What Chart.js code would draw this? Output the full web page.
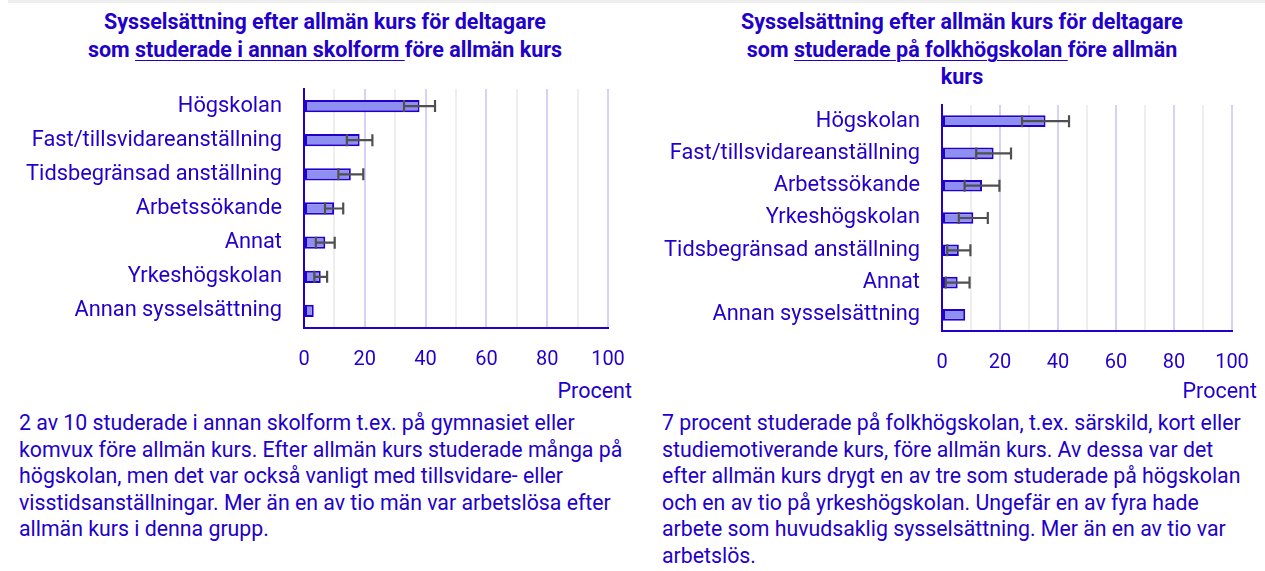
<!DOCTYPE html>
<html lang="sv">
<head>
<meta charset="utf-8">
<script src="https://cdn.jsdelivr.net/npm/chart.js@4/dist/chart.umd.min.js"></script>
<style>
    body { margin: 0; width: 1265px; height: 571px; background: #fff; font-family: Roboto, sans-serif; color: #2200cc; position: relative; overflow: hidden; }
    .strip { position: absolute; left: 8px; top: 0; width: 1257px; height: 3px; background: #eeeeee; }
    .title { position: absolute; text-align: center; font-weight: bold; font-size: 21.5px; line-height: 27.5px; }
    .title u { text-decoration-thickness: 1px; text-underline-offset: 3px; }
    .box { position: absolute; }
    .unit { position: absolute; font-size: 21.5px; line-height: 24px; }
    .text { position: absolute; font-size: 21.3px; line-height: 26.5px; margin: 0; }
</style>
</head>
<body>
<div class="strip"></div>

<div class="title" style="left:85px; top:8px; width:480px;">Sysselsättning efter allmän kurs för deltagare som <u>studerade i annan skolform </u>före allmän kurs</div>
<div class="title" style="left:734px; top:8px; width:456px;">Sysselsättning efter allmän kurs för deltagare som <u>studerade på folkhögskolan </u>före allmän kurs</div>

<div class="box" style="left:0; top:81px; width:640px; height:297px;"><canvas id="chartLeft" width="640" height="297"></canvas></div>
<div class="box" style="left:640px; top:97px; width:625px; height:284px;"><canvas id="chartRight" width="625" height="284"></canvas></div>

<div class="unit" style="right:633px; top:379px;">Procent</div>
<div class="unit" style="right:8px; top:379px;">Procent</div>

<p class="text" style="left:19px; top:410px; width:620px;">2 av 10 studerade i annan skolform t.ex. på gymnasiet eller komvux före allmän kurs. Efter allmän kurs studerade många på högskolan, men det var också vanligt med tillsvidare- eller visstidsanställningar. Mer än en av tio män var arbetslösa efter allmän kurs i denna grupp.</p>
<p class="text" style="left:662px; top:410px; width:594px;">7 procent studerade på folkhögskolan, t.ex. särskild, kort eller studiemotiverande kurs, före allmän kurs. Av dessa var det efter allmän kurs drygt en av tre som studerade på högskolan och en av tio på yrkeshögskolan. Ungefär en av fyra hade arbete som huvudsaklig sysselsättning. Mer än en av tio var arbetslös.</p>

<script>
const leftLabels = ['Högskolan', 'Fast/tillsvidareanställning', 'Tidsbegränsad anställning', 'Arbetssökande', 'Annat', 'Yrkeshögskolan', 'Annan sysselsättning'];
const leftValues = [38, 18.3, 15.4, 9.9, 7.0, 5.5, 3.2];
const leftErrors = [5.1, 4.2, 4.1, 3.0, 3.1, 2.1, null];

const rightLabels = ['Högskolan', 'Fast/tillsvidareanställning', 'Arbetssökande', 'Yrkeshögskolan', 'Tidsbegränsad anställning', 'Annat', 'Annan sysselsättning'];
const rightValues = [35.7, 17.8, 13.8, 10.8, 5.8, 5.4, 8.0];
const rightErrors = [8.1, 6.0, 6.0, 5.0, 4.0, 4.1, null];

const xTicks = [0, 20, 40, 60, 80, 100];

const textColor = '#2200cc';

// felstaplar ritas ovanpå staplarna
const errorBars = {
    id: 'errorBars',
    afterDatasetsDraw(chart, args, opts) {
        const errs = opts.errors || [];
        const xScale = chart.scales.x;
        const meta = chart.getDatasetMeta(0);
        const values = chart.data.datasets[0].data;
        const ctx = chart.ctx;
        ctx.save();
        ctx.strokeStyle = '#505050';
        ctx.lineWidth = 2.2;
        meta.data.forEach(function(bar, i) {
            const e = errs[i];
            if (e == null) return;
            const x1 = xScale.getPixelForValue(values[i] - e);
            const x2 = xScale.getPixelForValue(values[i] + e);
            const y = bar.y;
            ctx.beginPath();
            ctx.moveTo(x1, y); ctx.lineTo(x2, y);
            ctx.moveTo(x1, y - 6); ctx.lineTo(x1, y + 6);
            ctx.moveTo(x2, y - 6); ctx.lineTo(x2, y + 6);
            ctx.stroke();
        });
        ctx.restore();
    }
};

function makeChart(id, labels, values, errors, yWidth, padRight) {
    return new Chart(document.getElementById(id), {
        type: 'bar',
        data: {
            labels: labels,
            datasets: [{
                data: values,
                backgroundColor: '#8f8ff2',
                borderColor: '#2200cc',
                borderWidth: 2,
                borderSkipped: false,
                categoryPercentage: 1,
                barPercentage: 0.36
            }]
        },
        options: {
            indexAxis: 'y',
            responsive: false,
            animation: false,
            layout: { padding: { top: 8, right: padRight, left: 0, bottom: 0 } },
            plugins: {
                legend: { display: false },
                tooltip: { enabled: false },
                errorBars: { errors: errors }
            },
            scales: {
                x: {
                    min: 0,
                    max: 100,
                    afterFit: function(scale) {
                        scale.height = 50;
                        scale.paddingLeft = 0;
                        scale.paddingRight = 0;
                    },
                    ticks: {
                        stepSize: 10,
                        autoSkip: false,
                        maxRotation: 0,
                        padding: 20,
                        color: textColor,
                        font: { family: 'Roboto', size: 20 },
                        callback: function(v) { return xTicks.includes(v) ? v : ''; }
                    },
                    grid: {
                        drawTicks: false,
                        lineWidth: 2,
                        color: function(c) { return c.tick && c.tick.value % 20 === 0 ? '#d6d2f5' : '#eeeeee'; }
                    },
                    border: { color: '#2200cc', width: 2 }
                },
                y: {
                    afterFit: function(scale) {
                        scale.width = yWidth;
                        scale.paddingTop = 0;
                        scale.paddingBottom = 0;
                    },
                    ticks: {
                        padding: 22,
                        color: textColor,
                        font: { family: 'Roboto', size: 21.8 }
                    },
                    grid: { display: false, drawTicks: false },
                    border: { color: '#2200cc', width: 2 }
                }
            }
        },
        plugins: [errorBars]
    });
}

makeChart('chartLeft', leftLabels, leftValues, leftErrors, 304, 32);
makeChart('chartRight', rightLabels, rightValues, rightErrors, 302, 33);
</script>
</body>
</html>
